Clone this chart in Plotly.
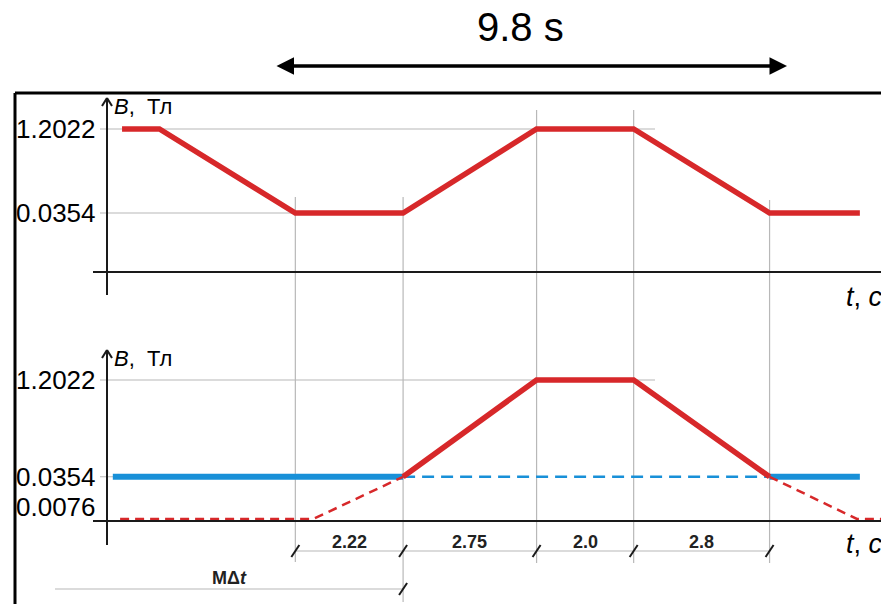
import numpy as np
import plotly.graph_objects as go

W, H = 881, 604

# Flux density levels, T
B_MAX = 1.2022
B_MID = 0.0354
B_LOW = 0.0076
level_labels = ["1.2022", "0.0354", "0.0076"]

# Cycle stages, s
stage_start = 3.88
stage_durations = [2.22, 2.75, 2.0, 2.8]
stage_labels = ["2.22", "2.75", "2.0", "2.8"]
edges = [float(v) for v in np.round(np.cumsum([stage_start] + stage_durations), 2)]
total_time = sum(stage_durations)

# Upper diagram: full field programme
top_t = [0.31, 1.08] + edges + [15.51]
top_B = [B_MAX, B_MAX, B_MID, B_MID, B_MAX, B_MAX, B_MID, B_MID]

# Lower diagram: working part of the cycle
work_t = edges[1:]
work_B = [B_MID, B_MAX, B_MAX, B_MID]
# ramps continued down to the residual level
ext_left_t = [0.27, 4.25, edges[1]]
ext_left_B = [B_LOW, B_LOW, B_MID]
ext_right_t = [edges[4], 15.45, 16.2]
ext_right_B = [B_MID, B_LOW, B_LOW]
# constant level B_MID
hold_left_t = [0.12, edges[1]]
hold_mid_t = [edges[1], edges[4]]
hold_right_t = [edges[4], 15.51]

# ---- geometry helpers (pixels -> seconds / paper) ----
PX_PER_S = 48.54
ORIGIN_PX = 107


def tx(px):
    return (px - ORIGIN_PX) / PX_PER_S


def py(px):
    return 1 - px / H


RED = "#d7282a"
BLUE = "#1890d8"
GRID = "#b8b8b8"
INK = "#1a1a1a"
FONT = "Liberation Sans, Arial, sans-serif"

fig = go.Figure()


def line(x, y, ax, color, width, dash=None):
    fig.add_trace(go.Scatter(
        x=x, y=y, mode="lines", xaxis="x" if ax == 1 else "x2",
        yaxis="y" if ax == 1 else "y2",
        line=dict(color=color, width=width, dash=dash),
        hoverinfo="skip", showlegend=False))


# upper panel
line([tx(100), tx(655)], [B_MAX, B_MAX], 1, GRID, 1.2)
line([tx(100), edges[0]], [B_MID, B_MID], 1, GRID, 1.2)
line(top_t, top_B, 1, RED, 5.5)

# lower panel
line([tx(100), tx(655)], [B_MAX, B_MAX], 2, GRID, 1.2)
line([tx(100), edges[1]], [B_MID, B_MID], 2, GRID, 1.2)
line(hold_left_t, [B_MID] * 2, 2, BLUE, 6)
line(hold_mid_t, [B_MID] * 2, 2, BLUE, 2.5, "12px,7px")
line(hold_right_t, [B_MID] * 2, 2, BLUE, 6)
line(ext_left_t, ext_left_B, 2, RED, 2.5, "9px,6px")
line(ext_right_t, ext_right_B, 2, RED, 2.5, "9px,6px")
line(work_t, work_B, 2, RED, 5.5)

shapes = []


def seg(x0, y0, x1, y1, color=INK, width=2, xref="x", yref="paper", layer="above"):
    shapes.append(dict(type="line", x0=x0, y0=y0, x1=x1, y1=y1, xref=xref, yref=yref,
                       line=dict(color=color, width=width), layer=layer))


def slash(xc, yc, color=INK):
    # small oblique tick of a dimension line
    shapes.append(dict(type="line", xref="x", yref="paper", xsizemode="pixel",
                       ysizemode="pixel", xanchor=xc, yanchor=yc,
                       x0=-4, y0=-6, x1=4, y1=6, line=dict(color=color, width=2)))


def arrow_tip(xc, yc):
    for dx in (-5, 5):
        shapes.append(dict(type="line", xref="x", yref="paper", xsizemode="pixel",
                           ysizemode="pixel", xanchor=xc, yanchor=yc,
                           x0=0, y0=0, x1=dx, y1=-8, line=dict(color=INK, width=2)))


# frame
seg(15 / W, py(93), 1.0, py(93), "black", 3, xref="paper")
seg(15 / W, py(93), 15 / W, py(604), "black", 3, xref="paper")

# projection lines between the two panels
proj = [(edges[0], 197, 562), (edges[1], 197, 602), (edges[2], 110, 563),
        (edges[3], 110, 563), (edges[4], 200, 563)]
for xe, ya, yb in proj:
    seg(xe, py(ya), xe, py(yb), GRID, 1.2, layer="below")

# coordinate axes
for axis_y, top_px, bot_px in [(272, 98, 295), (521, 350, 545)]:
    seg(93 / W, py(axis_y), 1.0, py(axis_y), INK, 2, xref="paper")
    seg(0, py(bot_px), 0, py(top_px), INK, 2)
    arrow_tip(0, py(top_px))

# dimension lines
seg(edges[0], py(551), edges[-1], py(551), GRID, 1.2)
for xe in edges:
    slash(xe, py(551))
seg(tx(55), py(589), edges[1], py(589), GRID, 1.2)
slash(edges[1], py(589))

annotations = []


def text(x, y, s, size, xref="x", yref="paper", xanchor="center", yanchor="middle",
         yshift=0, color="black"):
    annotations.append(dict(x=x, y=y, text=s, xref=xref, yref=yref, showarrow=False,
                            xanchor=xanchor, yanchor=yanchor, yshift=yshift,
                            font=dict(family=FONT, size=size, color=color)))


# level labels
for val, lab in zip([B_MAX, B_MID], level_labels[:2]):
    text(tx(98), float(np.log10(val)), lab, 26, yref="y", xanchor="right")
for val, lab, shift in zip([B_MAX, B_MID, B_LOW], level_labels, [0, 0, 12]):
    text(tx(98), float(np.log10(val)), lab, 26, yref="y2", xanchor="right", yshift=shift)

# axis titles
for ypx in (107, 358):
    text(tx(112), py(ypx), "<i>B</i>,\u00a0 Тл", 22, xanchor="left")
for ypx in (297, 544):
    text(tx(844), py(ypx), "<i>t</i>, <i>с</i>", 27, xanchor="left")

# stage durations
for a, b, lab in zip(edges[:-1], edges[1:], stage_labels):
    text((a + b) / 2, py(542), f"<b>{lab}</b>", 18, color="#222222")
text((tx(55) + edges[1]) / 2, py(578), "<b>MΔ<i>t</i></b>", 18, color="#222222")

# total span
text(tx(520), py(27), f"{total_time:.1f} s", 40)
annotations.append(dict(x=tx(787), y=py(66), ax=tx(275), ay=0, xref="x", yref="paper",
                        axref="x", ayref="pixel", text="", showarrow=True,
                        arrowhead=2, startarrowhead=2, arrowside="end+start",
                        arrowwidth=3.5, arrowsize=1, startarrowsize=1,
                        arrowcolor="black", standoff=0, startstandoff=0))

x_range = [tx(0), tx(W)]
fig.update_layout(
    width=W, height=H,
    margin=dict(l=0, r=0, t=0, b=0, pad=0),
    paper_bgcolor="white", plot_bgcolor="rgba(0,0,0,0)",
    showlegend=False,
    xaxis=dict(domain=[0, 1], range=x_range, visible=False, fixedrange=True, anchor="y"),
    xaxis2=dict(domain=[0, 1], range=x_range, visible=False, fixedrange=True, anchor="y2"),
    yaxis=dict(type="log", domain=[py(300), py(90)], range=[-3.0365, 0.7907],
               visible=False, fixedrange=True, anchor="x"),
    yaxis2=dict(type="log", domain=[py(560), py(330)], range=[-2.768, 0.8711],
                visible=False, fixedrange=True, anchor="x2"),
    shapes=shapes, annotations=annotations,
)

fig.write_html("out.html")
